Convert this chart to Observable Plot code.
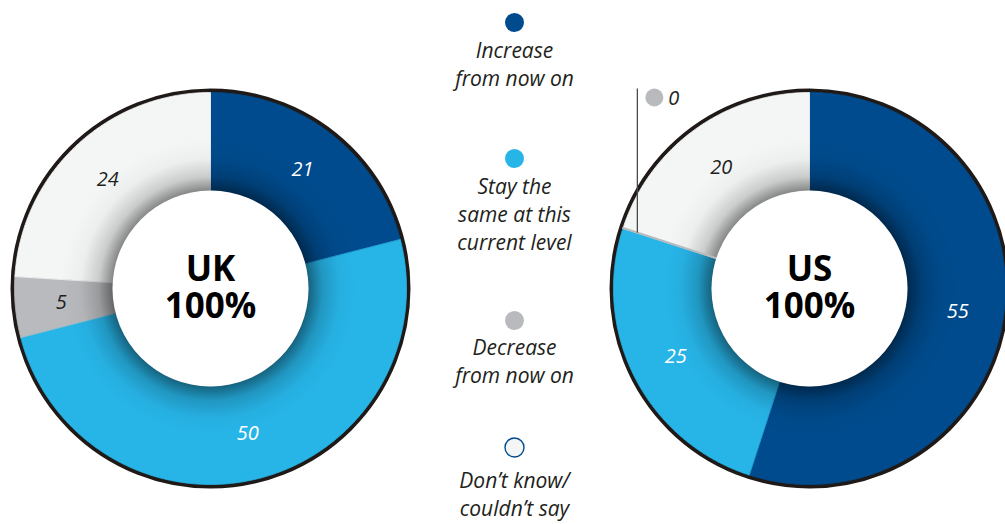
<!DOCTYPE html>
<html>
<head>
<meta charset="utf-8">
<script src="https://cdn.jsdelivr.net/npm/d3@7"></script>
<script src="https://cdn.jsdelivr.net/npm/@observablehq/plot@0.6"></script>
<style>
  html, body { margin: 0; padding: 0; background: #fff; overflow: hidden; }
  #chart svg { display: block; overflow: hidden; }
</style>
</head>
<body>
<div id="chart"></div>
<script>
// ---- data ----
const categories = [
  "Increase from now on",
  "Stay the same at this current level",
  "Decrease from now on",
  "Don’t know/couldn’t say"
];
const legendLabels = [
  "Increase\nfrom now on",
  "Stay the\nsame at this\ncurrent level",
  "Decrease\nfrom now on",
  "Don’t know/\ncouldn’t say"
];
const countries = ["UK", "US"];
const ukValues = [21, 50, 5, 24];
const usValues = [55, 25, 0, 20];
const totalLabel = "100%";

// ---- styles ----
const colors = ["#004b8d", "#27b5e8", "#b9babd", "#f4f6f6"];
const whiteInk = [true, true, false, false];
const ink = "#231f20";
const font = "'Open Sans', 'Noto Sans', sans-serif";

// ---- layout ----
const W = 1005, H = 524;
const centers = {UK: [210, 288], US: [809, 288]};
const rInner = 98, rOuter = 196, rLabel = 150, rBorder = 197.5, rShade = 150, rCallout = 181;
const legendX = 514;
const legendDotY = [22, 158, 320, 447];
const legendTextY = [37, 173, 334, 467];
const calloutTop = 88;

const seriesByCountry = {UK: ukValues, US: usValues};
const pie = d3.pie().sort(null).value(d => d);
const slices = countries.flatMap(country =>
  pie(seriesByCountry[country]).map((s, i) => ({
    country, category: categories[i], index: i, value: s.value,
    start: s.startAngle, end: s.endAngle, mid: (s.startAngle + s.endAngle) / 2
  }))
);
const pt = (c, r, a) => [c[0] + r * Math.sin(a), c[1] - r * Math.cos(a)];

const polygon = slices.flatMap(s => {
  const c = centers[s.country];
  const n = Math.max(1, Math.ceil((s.end - s.start) / (Math.PI / 360)));
  const pts = [];
  for (let k = 0; k <= n; k++) pts.push(pt(c, rOuter, s.start + (s.end - s.start) * k / n));
  for (let k = n; k >= 0; k--) pts.push(pt(c, rInner, s.start + (s.end - s.start) * k / n));
  return pts.map(([x, y]) => ({x, y, id: s.country + "-" + s.index, category: s.category, value: s.value}));
});

const labelPos = s => pt(centers[s.country], rLabel, s.mid);
const zeroSlices = slices.filter(s => s.value === 0);
const calloutPos = s => pt(centers[s.country], rCallout, s.mid);

const svg = Plot.plot({
  width: W, height: H,
  marginTop: 0, marginRight: 0, marginBottom: 0, marginLeft: 0,
  x: {domain: [0, W], range: [0, W], axis: null},
  y: {domain: [0, H], range: [0, H], axis: null},
  color: {domain: categories, range: colors},
  style: {fontFamily: font, background: "#fff", overflow: "hidden"},
  marks: [
    // outer black border
    Plot.dot(countries, {x: d => centers[d][0], y: d => centers[d][1], r: rBorder, fill: "none", stroke: "#1f1a17", strokeWidth: 5}),
    // slices
    Plot.line(polygon.filter(d => d.value > 0), {x: "x", y: "y", z: "id", fill: "category", stroke: "category", strokeWidth: 0.8, curve: "linear-closed"}),
    // inner shade
    Plot.dot(countries, {x: d => centers[d][0], y: d => centers[d][1], r: rShade, fill: "url(#innerShade)"}),
    // zero-value slices drawn as a thin line
    Plot.line(polygon.filter(d => d.value === 0), {x: "x", y: "y", z: "id", stroke: "category", strokeWidth: 2}),
    // white hole
    Plot.dot(countries, {x: d => centers[d][0], y: d => centers[d][1], r: rInner, fill: "#fff"}),
    // center labels
    Plot.text(countries, {x: d => centers[d][0], y: d => centers[d][1] - 1, text: d => d + "\n" + totalLabel,
      fontWeight: "bold", fontSize: 35, lineHeight: 1.06, fill: "#000"}),
    // value labels
    Plot.text(slices.filter(s => s.value > 0 && whiteInk[s.index]), {x: s => labelPos(s)[0], y: s => labelPos(s)[1], text: s => String(s.value),
      fontSize: 20, fontStyle: "italic", fill: "#fff"}),
    Plot.text(slices.filter(s => s.value > 0 && !whiteInk[s.index]), {x: s => labelPos(s)[0], y: s => labelPos(s)[1], text: s => String(s.value),
      fontSize: 20, fontStyle: "italic", fill: ink}),
    // callout for zero-value slice
    Plot.link(zeroSlices, {x1: s => calloutPos(s)[0], y1: () => calloutTop, x2: s => calloutPos(s)[0], y2: s => calloutPos(s)[1],
      stroke: "#4a4a4a", strokeWidth: 1.3}),
    Plot.dot(zeroSlices, {x: s => calloutPos(s)[0] + 17, y: () => calloutTop + 9, r: 9, fill: "category"}),
    Plot.text(zeroSlices, {x: s => calloutPos(s)[0] + 31, y: () => calloutTop + 10, text: s => String(s.value),
      textAnchor: "start", fontSize: 20, fontStyle: "italic", fill: ink}),
    // legend
    Plot.dot(categories, {x: () => legendX, y: (d, i) => legendDotY[i], r: 9.5, fill: d => d}),
    Plot.dot(categories.slice(3), {x: () => legendX, y: () => legendDotY[3], r: 9.5, fill: "none", stroke: colors[0], strokeWidth: 1.4}),
    Plot.text(legendLabels, {x: () => legendX, y: (d, i) => legendTextY[i], text: d => d, lineAnchor: "top", lineHeight: 1.35,
      fontSize: 21, fontStyle: "italic", fill: ink})
  ]
});

const defs = d3.select(svg).insert("defs", ":first-child");
const g = defs.append("radialGradient").attr("id", "innerShade");
g.append("stop").attr("offset", rInner / rShade).attr("stop-color", "#000").attr("stop-opacity", 0.45);
g.append("stop").attr("offset", (rInner + 14) / rShade).attr("stop-color", "#000").attr("stop-opacity", 0.17);
g.append("stop").attr("offset", (rInner + 32) / rShade).attr("stop-color", "#000").attr("stop-opacity", 0.03);
g.append("stop").attr("offset", 1).attr("stop-color", "#000").attr("stop-opacity", 0);

document.getElementById("chart").appendChild(svg);
</script>
</body>
</html>
